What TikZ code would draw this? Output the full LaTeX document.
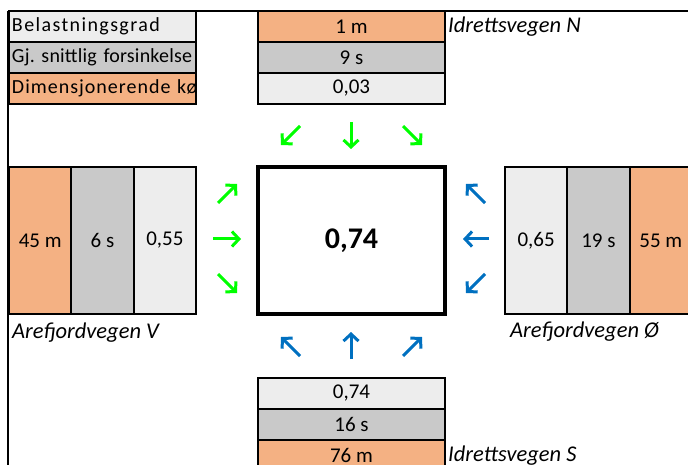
\documentclass[tikz,border=0pt]{standalone}
\usepackage{fontspec}
\setmainfont{Carlito}
\usetikzlibrary{positioning,arrows.meta}
\definecolor{cellorange}{HTML}{F4B183}
\definecolor{cellgray}{HTML}{C9C9C9}
\definecolor{celllight}{HTML}{EDEDED}
\definecolor{flowgreen}{HTML}{00FF00}
\definecolor{flowblue}{HTML}{0070C0}
\newcommand{\spaced}[2]{\mbox{\addfontfeature{LetterSpace=#1}#2}}
\tikzset{
    %Define style for table cells
    cell/.style={
           rectangle,
           draw=black,
           line width=2pt,
           inner sep=0pt,
           outer sep=0pt,
           minimum width=187pt,
           minimum height=31pt,
           text centered,
           font=\fontsize{21}{23}\selectfont},
    % Define style for legend cells
    legend/.style={
           cell,
           text width=181pt,
           inner xsep=3pt,
           align=left,
           font=\fontsize{20}{22}\selectfont\frenchspacing},
    % Define style for the upright approach cells
    column/.style={
           cell,
           minimum width=62.3pt,
           minimum height=147pt},
    % Define style for road names
    road/.style={
           anchor=west,
           inner sep=0pt,
           font=\itshape\fontsize{22.5}{24}\selectfont},
    % Define style for turning arrows
    turn/.style={
           -{Straight Barb[length=7pt,width=15pt]},
           line width=3pt}
}
\begin{document}
\begin{tikzpicture}[x=1pt, y=-1pt]
    \useasboundingbox (0,0) rectangle (688,465);
    \draw[line width=2pt] (8,11) -- (688,11);
    \draw[line width=2pt] (8,11) -- (8,465);

    \node [legend, fill=celllight, anchor=north west] (load) at (9,11) {\spaced{7}{Belastningsgrad}};
    \node [legend, fill=cellgray, below=0pt of load] (delay) {\spaced{1}{Gj. snittlig forsinkelse}};
    \node [legend, fill=cellorange, below=0pt of delay] (queue) {\spaced{5}{Dimensjonerende kø}};

    \node [cell, fill=cellorange, anchor=north west] (nQueue) at (258,11) {1 m};
    \node [cell, fill=cellgray, below=0pt of nQueue] (nDelay) {9 s};
    \node [cell, fill=celllight, below=0pt of nDelay] (nLoad) {0,03};
    \node [road, right=3pt of nQueue] (nName) {Idrettsvegen N};

    \node [cell, line width=4pt, minimum height=147pt, below=63pt of nLoad,
           font=\bfseries\fontsize{30}{32}\selectfont] (jnct) {0,74};

    \node [column, fill=celllight, left=62pt of jnct] (wLoad) {0,55};
    \node [column, fill=cellgray, left=0pt of wLoad] (wDelay) {6 s};
    \node [column, fill=cellorange, left=0pt of wDelay] (wQueue) {45 m};
    \node [road] (wName) at (12,333) {Arefjordvegen V};

    \node [column, fill=celllight, right=60pt of jnct] (eLoad) {0,65};
    \node [column, fill=cellgray, right=0pt of eLoad] (eDelay) {19 s};
    \node [column, fill=cellorange, right=0pt of eDelay] (eQueue) {55 m};
    \node [road] (eName) at (510,332) {Arefjordvegen Ø};

    \node [cell, fill=celllight, below=64pt of jnct] (sLoad) {0,74};
    \node [cell, fill=cellgray, below=0pt of sLoad] (sDelay) {16 s};
    \node [cell, fill=cellorange, below=0pt of sDelay] (sQueue) {76 m};
    \node [road, right=3pt of sQueue] (sName) {Idrettsvegen S};

    % turning arrows
    \draw[turn, flowgreen] (300,126) -- (281,145);
    \draw[turn, flowgreen] (351,122) -- (351,149);
    \draw[turn, flowgreen] (403,126) -- (422,145);
    \draw[turn, flowgreen] (218,203) -- (237,184);
    \draw[turn, flowgreen] (213,239) -- (241,239);
    \draw[turn, flowgreen] (218,274) -- (237,293);
    \draw[turn, flowblue] (485,203) -- (466,184);
    \draw[turn, flowblue] (489,239) -- (463,239);
    \draw[turn, flowblue] (485,274) -- (466,293);
    \draw[turn, flowblue] (300,356) -- (281,337);
    \draw[turn, flowblue] (351,359) -- (351,332);
    \draw[turn, flowblue] (403,356) -- (422,337);
\end{tikzpicture}
\end{document}
